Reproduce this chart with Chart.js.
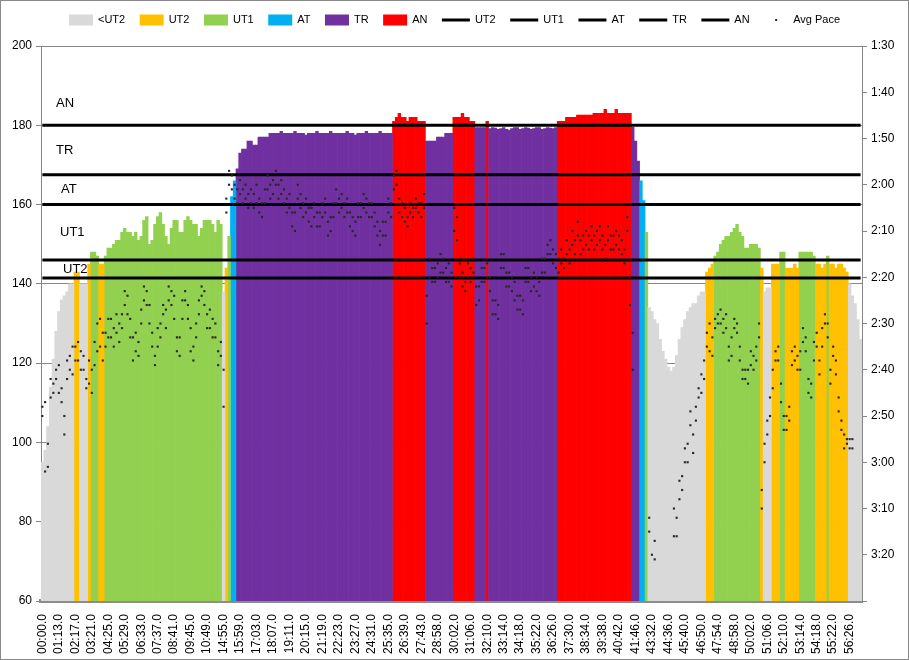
<!DOCTYPE html>
<html>
<head>
<meta charset="utf-8">
<script src="https://cdn.jsdelivr.net/npm/chart.js@4.4.1/dist/chart.umd.min.js"></script>
<style>
  html, body { margin: 0; padding: 0; background: #fff; }
  #wrap { width: 909px; height: 660px; }
</style>
</head>
<body>
<div id="wrap"><canvas id="hrChart" width="909" height="660"></canvas></div>
<script>
// x axis: one label every LABEL_STEP samples
const LABEL_STEP = 6;
const tickLabels = ['00:00.0','01:13.0','02:17.0','03:21.0','04:25.0','05:29.0','06:33.0','07:37.0','08:41.0','09:45.0',
  '10:49.0','14:55.0','15:59.0','17:03.0','18:07.0','19:11.0','20:15.0','21:19.0','22:23.0','23:27.0',
  '24:31.0','25:35.0','26:39.0','27:43.0','28:58.0','30:02.0','31:06.0','32:10.0','33:14.0','34:18.0',
  '35:22.0','36:26.0','37:30.0','38:34.0','39:38.0','40:42.0','41:46.0','43:32.0','44:36.0','45:40.0',
  '46:50.0','47:54.0','48:58.0','50:02.0','51:06.0','52:10.0','53:14.0','54:18.0','55:22.0','56:26.0'];

// zones and their lower limits (bpm)
const zoneNames = ['<UT2', 'UT2', 'UT1', 'AT', 'TR', 'AN'];
const zoneColors = ['#d9d9d9', '#ffc000', '#92d050', '#00b0f0', '#7030a0', '#ff0000'];
const lineNames = ['UT2', 'UT1', 'AT', 'TR', 'AN'];
const zoneLimits = [141.5, 146, 160, 167.5, 180];

// heart rate (bpm), one value per sample
const hr = [
  95, 98, 104, 114, 121, 128, 133, 136, 137, 138, 140, 140,
  143, 143, 140, 140, 140, 145, 148, 148, 147, 145, 145,
  147, 149, 149, 150, 151, 151, 153, 154, 153, 153,
  152, 153, 151, 152, 156, 157, 150, 151, 155, 157,
  158, 155, 152, 150, 154, 156, 156, 153, 153, 156,
  157, 156, 155, 155, 152, 154, 156, 156, 156, 155,
  153, 156, 155,
  138, 144, 152, 162, 166,
  169, 173, 174, 174, 176, 176, 175, 175, 177, 177, 177, 177, 178,
  178, 178, 178, 178.5, 178, 178, 178, 178, 178.5, 178,
  178, 178, 177.5, 178, 178, 178, 178.5, 178, 178, 178,
  178, 178.5, 178, 178, 178, 178, 178, 178.5, 178, 178,
  177.5, 178, 178, 178, 178.5, 178, 178, 178, 178, 178.5,
  178, 178, 178, 178,
  181, 182, 183, 182, 182, 181, 182, 182, 182, 181, 181, 181,
  176, 176, 176, 176, 177, 177, 177, 178, 178, 178,
  182, 182, 182, 183, 182, 182, 181, 181,
  179.4, 179.4, 179.4, 179.4,
  181,
  179.2, 179.4, 179.3, 179, 179.2, 179.4, 179, 178.8, 179.2, 179.4,
  179.4, 179, 179.2, 179.4, 179.3, 179, 179.2, 179.4, 179.4, 179,
  179.2, 179.4, 179.3, 179.2, 179.4,
  181, 181, 181, 182, 182, 182, 182, 182.6, 182.6, 182.6,
  182.6, 182.6, 182.6, 183, 183, 183, 183, 184, 183, 183,
  183, 184, 183, 183, 183, 183, 183,
  179.5, 176, 171, 166, 161, 153,
  134, 133, 131, 130, 126, 123, 121, 119, 118, 119,
  122, 126, 129, 131, 133, 134, 135, 135, 137, 138, 138,
  143, 144, 145,
  147, 148, 150, 151, 152, 152, 153, 154, 155, 153, 152, 149, 149, 150, 150, 150, 149,
  144, 138, 139, 139,
  145, 145, 145, 148, 148,
  144, 144, 144, 145, 144,
  148, 148, 148, 148, 148, 147,
  145, 145, 144, 145, 147,
  145, 145, 144, 145, 145, 144, 143,
  140, 137, 135, 131, 126
];

// average pace (seconds per 500 m): first reading in each sample
const pace = [
  170, 182, 176, 166, 163, 162, 159, 164, 174, 162, 157, 155, 158, 158, 156, 160, 162, 163, 160, 154, 150, 155, 158,
  152, 149, 153, 151, 152, 150, 148, 146, 144, 149,
  153, 156, 157, 150, 145, 143, 146, 152, 157, 155,
  150, 148, 151, 145, 143, 144, 153, 157, 149, 145,
  146, 151, 155, 153, 148, 144, 143, 148, 151, 149,
  153, 156, 157,
  168, 126, 120, 118, 120,
  121, 122, 121, 123, 122, 124, 122, 124, 126, 127,
  124, 121, 120, 119, 117, 120, 122, 121, 123, 125,
  129, 126, 123, 122, 124, 126, 128, 125, 127, 129,
  126, 124, 126, 128, 130, 127, 124, 123, 125, 124,
  126, 129, 130, 128, 127, 124, 125, 123, 124, 127,
  129, 131, 130, 128, 131, 126, 124,
  118, 120, 123, 127, 128, 127, 126, 125, 125, 124, 124, 125,
  150, 140, 141, 138, 137, 139, 136, 138, 141, 142,
  125, 132, 140, 142, 141, 140, 138, 139,
  142, 145, 141, 138, 137, 140, 145, 148, 146, 138,
  135, 139, 142, 143, 141, 144, 147, 145, 141, 138,
  140, 142, 143, 141, 139, 136, 133, 135, 137, 135,
  136, 137, 136, 135, 134, 133, 132, 131, 132, 134,
  133, 131, 132, 131, 130, 132, 134, 133, 132, 131,
  131, 133, 134, 135, 134, 130, 140,
  152, null, null, null, null, null,
  195, 200, 197, null, null, null, null, null, null, 196,
  192, 188, 183, 180, 176, 172, 174, 168, 164, 161, 162,
  152, 156, 153,
  149, 148, 147, 149, 151, 155, 157, 151, 150, 155, 160, 162, 160, 159, 157, 155, 153,
  190, 180, 174, 170,
  164, 158, 155, 163, 170,
  173, 168, 159, 155, 157,
  160, 154, 153, 162, 166, 158,
  152, 158, 155, 148, 150,
  163, 157, 158, 166, 171, 174, 176,
  177, 175, null, null, null
];

// second pace reading in each sample
const paceB = [
  168, 167, 181, 162, 165, 160, 165, 167, 170, 158, 160, 161, 155, 154, 160, 157, 164, 158, 165, 159, 156, 149, 152,
  155, 153, 149, 155, 148, 154, 151, 143, 148, 153,
  158, 152, 154, 147, 142, 146, 150, 155, 159, 151,
  153, 146, 147, 142, 146, 149, 156, 153, 145, 143,
  149, 156, 158, 150, 145, 142, 146, 151, 147, 153,
  150, 159, 154,
  160, 123, 117, 121, 123,
  124, 119, 124, 120, 125, 121, 125, 120, 123, 124,
  121, 118, 123, 122, 120, 123, 119, 124, 126, 122,
  126, 130, 120, 125, 127, 123, 125, 129, 124, 126,
  129, 127, 123, 131, 127, 124, 121, 126, 122, 127,
  123, 126, 127, 131, 124, 127, 122, 126, 127, 124,
  126, 128, 133, 131, 128, 123, 127,
  121, 117, 126, 124, 125, 129, 124, 127, 123, 126, 127, 122,
  144, 136, 138, 141, 140, 135, 139, 141, 137, 139,
  130, 127, 137, 139, 143, 137, 141, 136,
  146, 142, 138, 141, 140, 143, 148, 145, 149, 135,
  138, 142, 139, 140, 145, 147, 144, 148, 138, 141,
  143, 139, 140, 144, 136, 139, 135, 132, 134, 138,
  139, 134, 138, 132, 137, 130, 135, 128, 135, 131,
  130, 134, 129, 134, 133, 129, 131, 136, 129, 134,
  134, 130, 131, 132, 137, 127, 146,
  160, null, null, null, null, null,
  192, null, 201, null, null, null, null, null, null, 190,
  196, 184, 186, 177, 180, 169, 178, 171, 166, 165, 158,
  155, 150, 157,
  151, 150, 150, 152, 148, 158, 153, 149, 152, 158, 162, 160, 163, 156, 160, 158, 150,
  186, 176, 171, 166,
  160, 156, 158, 167, 173,
  170, 171, 156, 158, 160,
  156, 151, 156, 165, 163, 154,
  155, 161, 151, 150, 153,
  160, 155, 161, 169, 173, 177, 175,
  175, 177, null, null, null
];

const labels = hr.map((v, i) => i % LABEL_STEP === 0 ? (tickLabels[i / LABEL_STEP] || '') : '');

function zoneOf(v) {
  let z = 0;
  zoneLimits.forEach(l => { if (v >= l) z++; });
  return z;
}

const zoneSets = zoneNames.map((name, z) => ({
  type: 'bar',
  label: name,
  data: hr.map(v => zoneOf(v) === z ? v : null),
  backgroundColor: zoneColors[z],
  borderWidth: 0,
  grouped: false,
  barPercentage: 1,
  categoryPercentage: 1,
  yAxisID: 'y',
  order: 3
}));

const lineSets = lineNames.map((name, i) => ({
  type: 'line',
  label: name,
  data: hr.map(() => zoneLimits[i]),
  borderColor: '#000',
  borderWidth: 3,
  pointRadius: 0,
  yAxisID: 'y',
  order: 2
}));

const dotStyle = {
  type: 'line',
  showLine: false,
  pointStyle: 'rect',
  pointRadius: 1.5,
  pointBorderWidth: 0,
  pointBackgroundColor: '#262626',
  yAxisID: 'y2',
  order: 1
};
const paceSets = [
  { ...dotStyle, label: 'Avg Pace', data: pace },
  { ...dotStyle, label: 'Avg Pace', data: paceB, inLegend: false }
];

const FONT = "'Liberation Sans', Arial, sans-serif";
Chart.defaults.font.family = FONT;
Chart.defaults.color = '#000';

function fmtPace(v) {
  const m = Math.floor(v / 60), s = v % 60;
  return m + ':' + (s < 10 ? '0' : '') + s;
}

// legend, zone captions and outer frame
const decor = {
  id: 'decor',
  afterDraw(chart) {
    const ctx = chart.ctx;
    const area = chart.chartArea;
    const y = chart.scales.y;
    ctx.save();

    // zone captions
    ctx.font = '13px ' + FONT;
    ctx.fillStyle = '#000';
    ctx.textBaseline = 'middle';
    const capX = [15, 15, 20, 19, 22];
    const capV = [185.5, (167.5 + 180) / 2, (160 + 167.5) / 2, (146 + 160) / 2, (141.5 + 146) / 2];
    ['AN', 'TR', 'AT', 'UT1', 'UT2'].forEach((t, i) => {
      ctx.fillText(t, area.left + capX[i], y.getPixelForValue(capV[i]));
    });

    // legend
    ctx.font = '11px ' + FONT;
    const items = chart.data.datasets.filter(ds => ds.inLegend !== false).map(ds => ({
      kind: ds.type === 'bar' ? 'box' : (ds.showLine === false ? 'dot' : 'line'),
      color: ds.type === 'bar' ? ds.backgroundColor : (ds.borderColor || ds.pointBackgroundColor),
      text: ds.label
    }));
    const symW = { box: 24, line: 28, dot: 24 };
    const txtGap = 5, itemGap = 14.5;
    let total = 0;
    items.forEach((it, i) => {
      it.w = ctx.measureText(it.text).width;
      total += symW[it.kind] + txtGap + it.w + (i ? itemGap : 0);
    });
    let x = (chart.width - total) / 2;
    const ly = 20;
    items.forEach(it => {
      const w = symW[it.kind];
      if (it.kind === 'box') {
        ctx.fillStyle = it.color;
        ctx.fillRect(x, ly - 5.5, w, 11);
      } else if (it.kind === 'line') {
        ctx.fillStyle = '#000';
        ctx.fillRect(x, ly - 1.5, w, 3);
      } else {
        ctx.fillStyle = '#262626';
        ctx.fillRect(x + w / 2 - 1, ly - 1, 2, 2);
      }
      ctx.fillStyle = '#000';
      ctx.fillText(it.text, x + w + txtGap, ly);
      x += w + txtGap + it.w + itemGap;
    });

    // outer frame
    ctx.strokeStyle = '#888';
    ctx.lineWidth = 1;
    ctx.strokeRect(0.5, 0.5, chart.width - 1, chart.height - 1);
    ctx.restore();
  }
};

new Chart(document.getElementById('hrChart'), {
  data: {
    labels: labels,
    datasets: [...zoneSets, ...lineSets, ...paceSets]
  },
  options: {
    responsive: false,
    animation: false,
    layout: { padding: { top: 46, left: 0, right: 0, bottom: 0 } },
    plugins: { legend: { display: false }, tooltip: { enabled: false } },
    scales: {
      x: {
        type: 'category',
        offset: true,
        z: 1,
        grid: { display: false },
        border: { display: true, color: '#8c8c8c', width: 4 },
        ticks: { autoSkip: false, maxRotation: 90, minRotation: 90, padding: 5, font: { size: 12 } },
        afterFit: s => { s.height = 59; }
      },
      y: {
        position: 'left',
        min: 60, max: 200,
        ticks: { stepSize: 20, padding: 4, font: { size: 12 } },
        grid: { color: '#868686', tickLength: 5 },
        border: { color: '#868686' },
        afterFit: s => { s.width = 41; }
      },
      y2: {
        position: 'right',
        min: 90, max: 210,
        reverse: true,
        ticks: { stepSize: 10, padding: 4, font: { size: 12 }, callback: v => v >= 210 ? '' : fmtPace(v) },
        grid: { drawOnChartArea: false, color: '#868686', tickLength: 5 },
        border: { color: '#868686' },
        afterFit: s => { s.width = 47; }
      }
    }
  },
  plugins: [decor]
});
</script>
</body>
</html>
